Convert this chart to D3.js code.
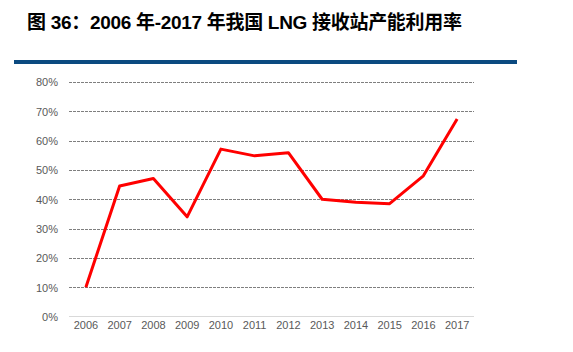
<!DOCTYPE html>
<html><head><meta charset="utf-8">
<script src="https://cdn.jsdelivr.net/npm/d3@7/dist/d3.min.js"></script>
<style>body{margin:0;background:#fff}svg{display:block}</style>
</head><body>
<script>
const years = ["2006","2007","2008","2009","2010","2011","2012","2013","2014","2015","2016","2017"];
const utilization = [10.0,44.5,47.1,34.0,57.1,54.8,55.9,40.0,39.0,38.5,48.0,67.4];
const yTicks = [0,10,20,30,40,50,60,70,80];
const titleText = "图 36：2006 年-2017 年我国 LNG 接收站产能利用率";

const W=573,H=352;
const svg=d3.select("body").append("svg").attr("width",W).attr("height",H);
const title=svg.append("text").attr("x",27).attr("y",29).text(titleText)
  .attr("font-family","'Liberation Sans', Arial, 'Noto Sans CJK SC', sans-serif").attr("font-weight","bold")
  .attr("font-size",19).attr("fill","#000");
const tw=title.node().getComputedTextLength();
if(tw>0) title.attr("textLength",435).attr("lengthAdjust","spacing");
svg.append("rect").attr("x",14).attr("y",60).attr("width",503).attr("height",4).attr("fill","#0b4a80");

const x=d3.scaleBand().domain(years).range([69,474]);
const y=d3.scaleLinear().domain([0,80]).range([316.5,82]);

const g=svg.append("g");
g.selectAll("line.grid").data(yTicks.filter(d=>d>0)).join("line")
  .attr("x1",69).attr("x2",474).attr("y1",d=>Math.round(y(d))+0.5).attr("y2",d=>Math.round(y(d))+0.5)
  .attr("stroke","#7f7f7f").attr("stroke-width",1).attr("stroke-dasharray","3,1");
g.append("line").attr("x1",69).attr("x2",474).attr("y1",316.5).attr("y2",316.5)
  .attr("stroke","#d9d9d9").attr("stroke-width",1);

const yAxis=d3.axisLeft(y).tickValues(yTicks).tickFormat(d=>d+"%").tickSize(0).tickPadding(0);
const ya=svg.append("g").attr("transform","translate(58,0)").call(yAxis);
ya.select(".domain").remove();
ya.selectAll("text").attr("font-family","Arial, 'Liberation Sans', sans-serif").attr("font-size",11).attr("fill","#595959").attr("dy","0.35em");

const xAxis=d3.axisBottom(x).tickSize(0).tickPadding(0);
const xa=svg.append("g").attr("transform","translate(0,321)").call(xAxis);
xa.select(".domain").remove();
xa.selectAll("text").attr("font-family","Arial, 'Liberation Sans', sans-serif").attr("font-size",11).attr("fill","#595959").attr("dy","0.71em");

const line=d3.line().x((d,i)=>x(years[i])+x.bandwidth()/2).y(d=>y(d));
svg.append("path").datum(utilization).attr("d",line).attr("fill","none")
  .attr("stroke","#ff0000").attr("stroke-width",3).attr("stroke-linejoin","round");
</script>
</body></html>
